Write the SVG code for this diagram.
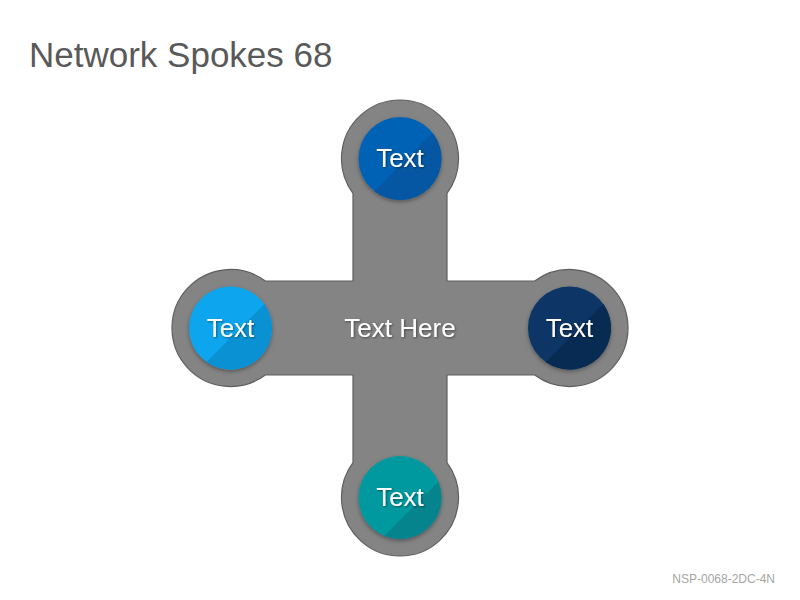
<svg xmlns="http://www.w3.org/2000/svg" width="800" height="600" viewBox="0 0 800 600">
  <defs>
    <style>
      .title { font-family: "Liberation Sans", Arial, sans-serif; font-size: 35px; fill: #595959; }
      .code { font-family: "Liberation Sans", Arial, sans-serif; font-size: 12px; fill: #a6a6a6; }
      .lbl { font-family: "Liberation Sans", Arial, sans-serif; font-size: 26px; fill: #ffffff; text-anchor: middle; }
      .hub { fill: #848484; stroke: #5e5e5e; stroke-width: 1.2; }
    </style>
    <filter id="circShadow" x="-30%" y="-30%" width="160%" height="160%">
      <feDropShadow dx="0" dy="2" stdDeviation="2" flood-color="#000" flood-opacity="0.35"/>
    </filter>
    <filter id="txtShadow" x="-20%" y="-20%" width="140%" height="160%">
      <feDropShadow dx="1" dy="1" stdDeviation="0.8" flood-color="#000" flood-opacity="0.45"/>
    </filter>
  </defs>

  <rect width="800" height="600" fill="#ffffff"/>

  <text class="title" x="29" y="67">Network Spokes 68</text>
  <text class="code" x="775" y="583" text-anchor="end">NSP-0068-2DC-4N</text>

  <g id="connectors">
    <path class="hub" d="M353,193.33 A58.5,58.5 0 1 1 447,193.33 L447,281 L534.67,281 A58.5,58.5 0 1 1 534.67,375 L447,375 L447,462.67 A58.5,58.5 0 1 1 353,462.67 L353,375 L265.33,375 A58.5,58.5 0 1 1 265.33,281 L353,281 Z"/>
  </g>

  <g id="hub-center">
    <text class="lbl" x="400" y="337" filter="url(#txtShadow)">Text Here</text>
  </g>

  <g id="node-top">
    <circle cx="400" cy="158.5" r="41.5" fill="#0562b5" filter="url(#circShadow)"/>
    <path d="M432.67,132.91 A41.5,41.5 0 0 1 374.41,191.17 Z" fill="#0557a3"/>
    <text class="lbl" x="400" y="167" filter="url(#txtShadow)">Text</text>
  </g>

  <g id="node-left">
    <circle cx="230.5" cy="328" r="41.5" fill="#0aa6ee" filter="url(#circShadow)"/>
    <path d="M264.38,304.02 A41.5,41.5 0 0 1 206.52,361.88 Z" fill="#0991d4"/>
    <text class="lbl" x="230.5" y="337" filter="url(#txtShadow)">Text</text>
  </g>

  <g id="node-right">
    <circle cx="569.5" cy="328" r="41.5" fill="#083466" filter="url(#circShadow)"/>
    <path d="M603.38,304.02 A41.5,41.5 0 0 1 545.52,361.88 Z" fill="#072b53"/>
    <text class="lbl" x="569.5" y="337" filter="url(#txtShadow)">Text</text>
  </g>

  <g id="node-bottom">
    <circle cx="400" cy="497.5" r="41.5" fill="#0699a0" filter="url(#circShadow)"/>
    <path d="M438.39,481.73 A41.5,41.5 0 0 1 384.23,535.89 Z" fill="#05848d"/>
    <text class="lbl" x="400" y="506" filter="url(#txtShadow)">Text</text>
  </g>
</svg>
